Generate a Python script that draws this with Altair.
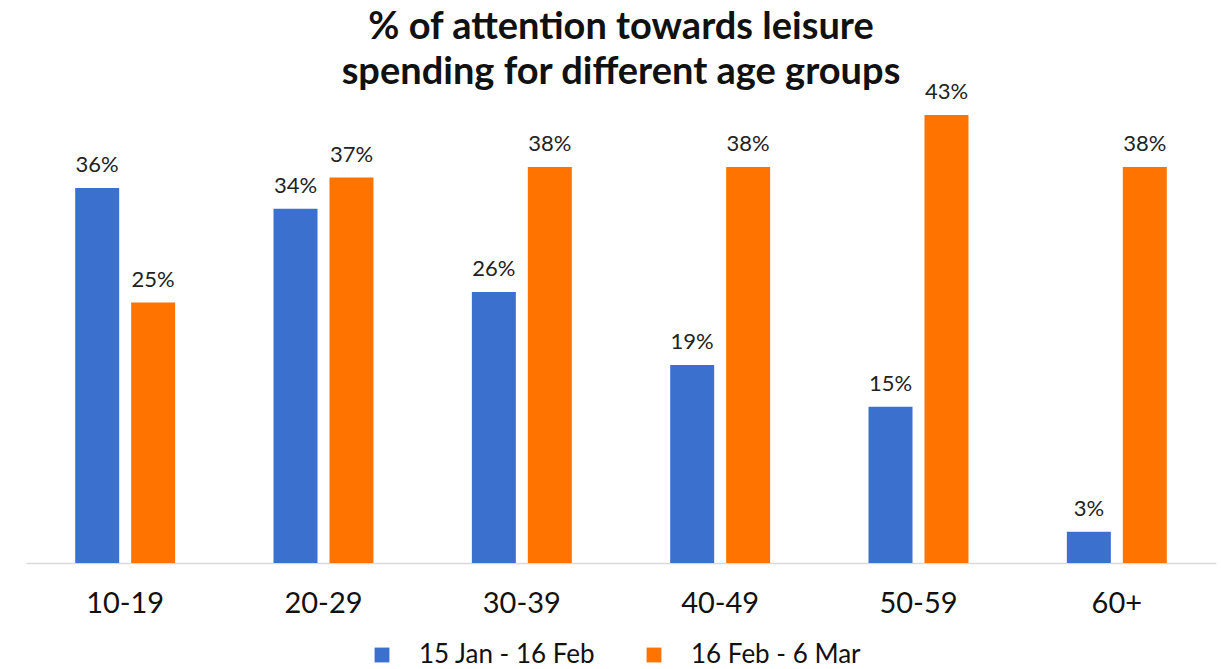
import altair as alt
import pandas as pd

age_groups = ["10-19", "20-29", "30-39", "40-49", "50-59", "60+"]
series_names = ["15 Jan - 16 Feb", "16 Feb - 6 Mar"]
period1 = [36, 34, 26, 19, 15, 3]
period2 = [25, 37, 38, 38, 43, 38]
colors = ["#3B70CE", "#FF7300"]

rows = []
for i, g in enumerate(age_groups):
    rows.append({"age": g, "period": series_names[0], "value": period1[i], "label": f"{period1[i]}%"})
    rows.append({"age": g, "period": series_names[1], "value": period2[i], "label": f"{period2[i]}%"})
df = pd.DataFrame(rows)

x = alt.X("age:N", sort=age_groups, title=None,
          scale=alt.Scale(paddingInner=0.496, paddingOuter=0.248),
          axis=alt.Axis(labelAngle=0, ticks=False, domainColor="#d9d9d9", domainWidth=1.5,
                        labelFont="Lato", labelFontSize=29, labelColor="#111111",
                        labelPadding=26, grid=False))
xo = alt.XOffset("period:N", sort=series_names,
                 scale=alt.Scale(paddingInner=0.214, paddingOuter=0))
y = alt.Y("value:Q", scale=alt.Scale(domain=[0, 43], nice=False), axis=None)

base = alt.Chart(df).encode(x=x, xOffset=xo, y=y)

bars = base.mark_bar().encode(
    color=alt.Color("period:N", sort=series_names,
                    scale=alt.Scale(domain=series_names, range=colors),
                    legend=alt.Legend(title=None, orient="none", direction="horizontal",
                                      legendX=343, legendY=527,
                                      symbolType="square", symbolSize=220, symbolStrokeWidth=0,
                                      labelFont="Lato", labelFontSize=26, labelColor="#111111",
                                      labelLimit=400, labelOffset=24, columnPadding=45))
)

labels = base.mark_text(baseline="bottom", dy=-11, font="Lato", fontSize=22, color="#222222").encode(
    text="label:N"
)

chart = (bars + labels).properties(
    width=1190, height=448,
    padding={"left": 26, "top": 115, "right": 5, "bottom": 106},
    autosize=alt.AutoSizeParams(type="none"),
    title=alt.Title(["% of attention towards leisure", "spending for different age groups"],
                    font="Lato", fontSize=38, fontWeight="bold", color="#111111",
                    lineHeight=45, anchor="middle", offset=-11),
).configure_view(stroke=None)

chart.save("out.html", embed_options={"renderer": "svg", "actions": False})
